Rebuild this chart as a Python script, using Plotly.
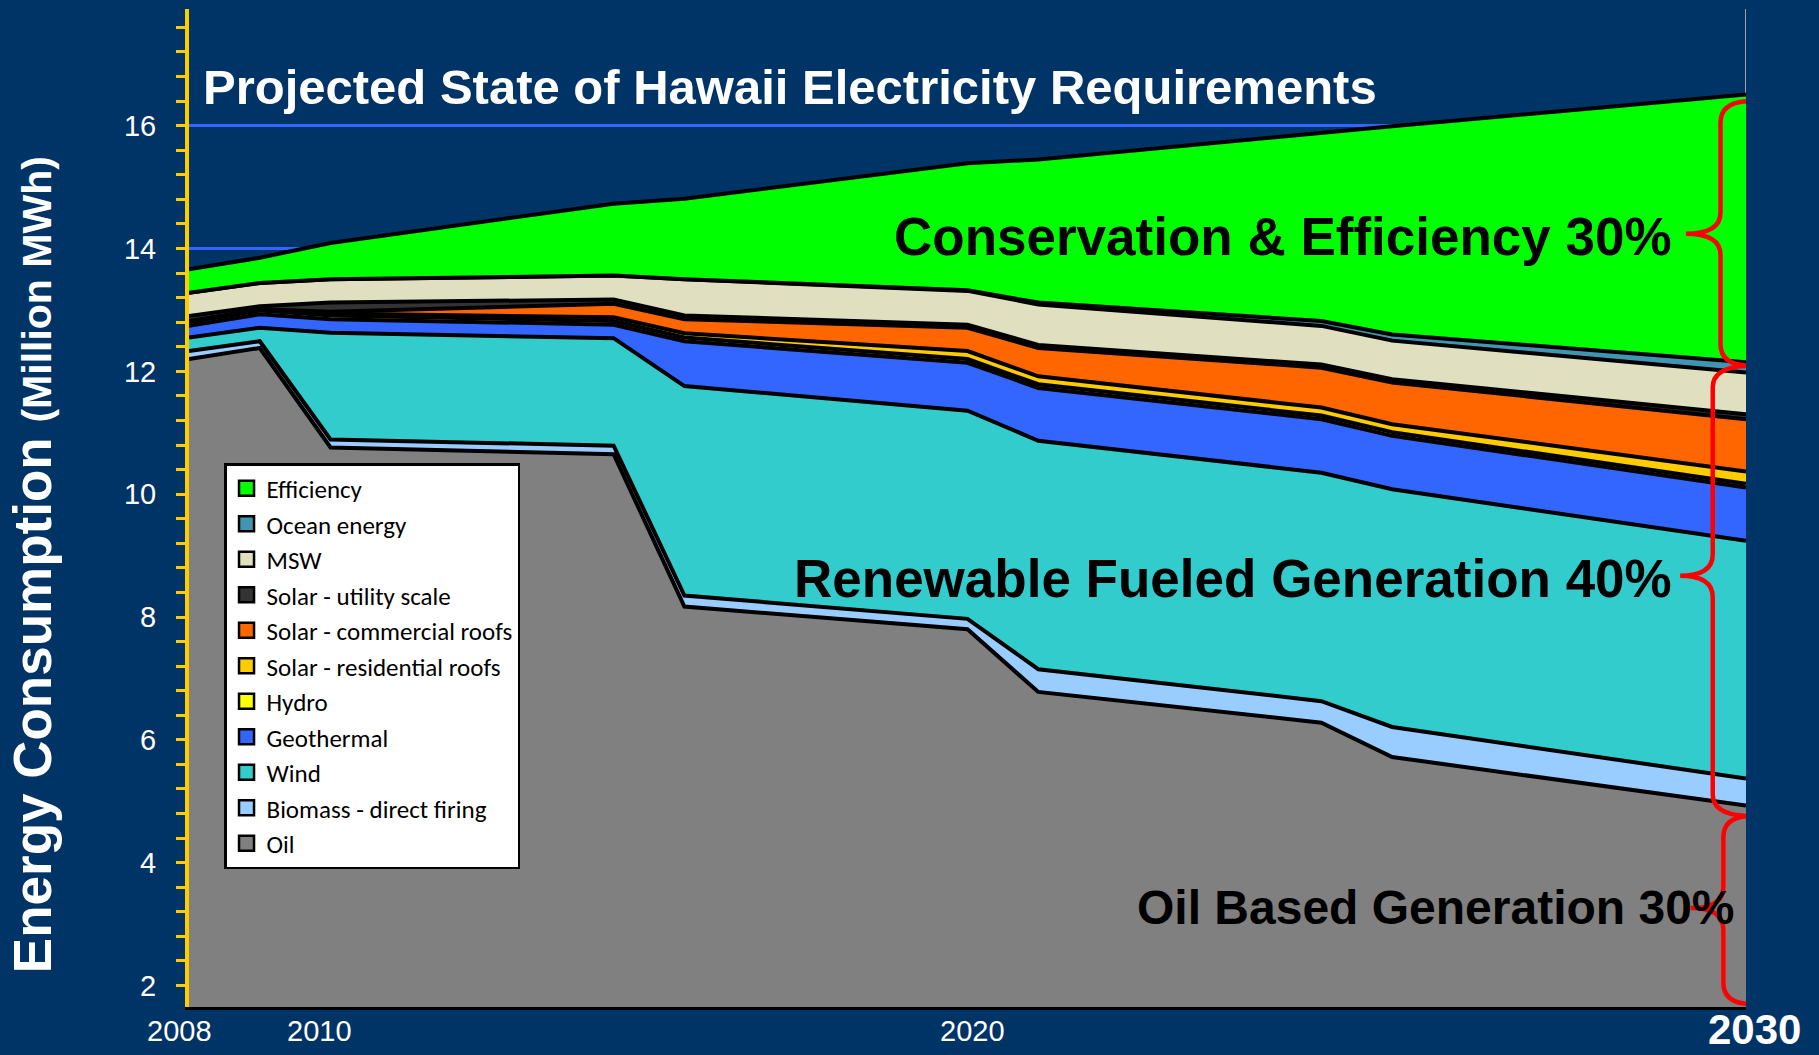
import plotly.graph_objects as go

# ---------------- data (million MWh, stacked layers) ----------------
years = [2008, 2009, 2010, 2014, 2015, 2019, 2020, 2024, 2025, 2030]

oil        = [12.20, 12.38, 10.76, 10.65, 8.17, 7.80, 6.78, 6.28, 5.72, 4.93]
biomass    = [0.13, 0.11, 0.13, 0.14, 0.18, 0.17, 0.37, 0.35, 0.49, 0.44]
wind       = [0.22, 0.22, 1.74, 1.75, 3.41, 3.39, 3.72, 3.72, 3.87, 3.87]
geothermal = [0.19, 0.22, 0.22, 0.22, 0.73, 0.78, 0.86, 0.87, 0.87, 0.87]
hydro      = [0.06, 0.06, 0.06, 0.06, 0.06, 0.06, 0.06, 0.06, 0.06, 0.06]
solar_res  = [0.01, 0.01, 0.03, 0.06, 0.07, 0.13, 0.13, 0.13, 0.13, 0.20]
solar_comm = [0.01, 0.01, 0.03, 0.22, 0.23, 0.38, 0.46, 0.65, 0.68, 0.85]
solar_util = [0.08, 0.05, 0.15, 0.07, 0.06, 0.05, 0.05, 0.05, 0.05, 0.08]
msw        = [0.38, 0.38, 0.38, 0.39, 0.59, 0.55, 0.66, 0.63, 0.63, 0.68]
ocean      = [0.00, 0.00, 0.00, 0.00, 0.00, 0.01, 0.03, 0.08, 0.10, 0.17]
efficiency = [0.38, 0.41, 0.59, 1.17, 1.31, 2.07, 2.33, 3.07, 3.39, 4.36]

series_names = ["Oil", "Biomass - direct firing", "Wind", "Geothermal", "Hydro",
                "Solar - residential roofs", "Solar - commercial roofs",
                "Solar - utility scale", "MSW", "Ocean energy", "Efficiency"]
series_values = [oil, biomass, wind, geothermal, hydro, solar_res, solar_comm,
                 solar_util, msw, ocean, efficiency]
series_colors = ["#808080", "#99CCFF", "#33CCCC", "#3366FF", "#FFFF00",
                 "#FFCC00", "#FF6600", "#333333", "#E0E0C0", "#4096B0", "#00FF00"]

x_tick_labels = ["2008", "2010", "2020"]
x_tick_label_pos = [2007.87, 2009.84, 2019.07]
last_year_label = "2030"
last_year_label_pos = 2030.12

# ---------------- style ----------------
NAVY = "#003366"
AXIS_YELLOW = "#FFCC00"
GRID_BLUE = "#3366FF"
BASE_FONT = "Liberation Sans, Arial, sans-serif"
LEGEND_FONT = "Carlito, Calibri, Lato, sans-serif"
X0, X1 = 2008, 2030


def xpaper(v):
    return (v - X0) / (X1 - X0)


fig = go.Figure()

for name, vals, col in zip(series_names, series_values, series_colors):
    fig.add_trace(go.Scatter(
        x=years, y=vals, name=name, stackgroup="one", mode="lines",
        line=dict(color="black", width=4, shape="linear"),
        fillcolor=col, showlegend=False, hoverinfo="x+y+name"))

# legend swatches (top of the stack first)
for name, col in zip(series_names[::-1], series_colors[::-1]):
    fig.add_trace(go.Scatter(
        x=[None], y=[None], name=name, mode="markers",
        marker=dict(symbol="square", size=15, color=col,
                    line=dict(color="black", width=2.5)),
        showlegend=True))


def brace(y_top, y_bot, y_tip, x_end, x_spine, x_tip, d):
    return (f"M {x_end},{y_top} Q {x_spine},{y_top} {x_spine},{y_top - d} "
            f"L {x_spine},{y_tip + d} Q {x_spine},{y_tip} {x_tip},{y_tip} "
            f"Q {x_spine},{y_tip} {x_spine},{y_tip - d} "
            f"L {x_spine},{y_bot + d} Q {x_spine},{y_bot} {x_end},{y_bot} ")


shapes = [
    dict(type="line", xref="x", yref="paper", x0=2030, x1=2030, y0=0, y1=1,
         line=dict(color="#A0A0A0", width=2), layer="below"),
    dict(type="path", xref="x", yref="y",
         path=brace(16.40, 12.09, 14.24, 2030.08, 2029.64, 2029.15, 0.35),
         line=dict(color="#FF0000", width=4.5)),
    dict(type="path", xref="x", yref="y",
         path=brace(12.09, 4.76, 8.67, 2030.08, 2029.53, 2029.07, 0.35),
         line=dict(color="#FF0000", width=4.5)),
    dict(type="path", xref="x", yref="y",
         path=brace(4.76, 1.70, 3.26, 2030.08, 2029.68, 2029.22, 0.35),
         line=dict(color="#FF0000", width=4.5)),
]

annotations = [
    dict(text="<b>Projected State of Hawaii Electricity Requirements</b>",
         xref="paper", yref="paper", x=0.008, y=0.922, xanchor="left", yanchor="middle",
         showarrow=False, font=dict(family=BASE_FONT, size=49, color="white")),
    dict(text="<b>Conservation &amp; Efficiency 30%</b>", xref="x", yref="y",
         x=2028.98, y=14.2, xanchor="right", yanchor="middle", showarrow=False,
         font=dict(family=BASE_FONT, size=53, color="black")),
    dict(text="<b>Renewable Fueled Generation 40%</b>", xref="x", yref="y",
         x=2028.98, y=8.63, xanchor="right", yanchor="middle", showarrow=False,
         font=dict(family=BASE_FONT, size=53, color="black")),
    dict(text="<b>Oil Based Generation 30%</b>", xref="x", yref="y",
         x=2029.87, y=3.27, xanchor="right", yanchor="middle", showarrow=False,
         font=dict(family=BASE_FONT, size=48, color="black")),
    dict(text="<b>Energy Consumption <span style='font-size:41px'>(Million MWh)</span></b>",
         xref="paper", yref="paper", x=-0.1, y=0.443, xanchor="center", yanchor="middle",
         textangle=-90, showarrow=False,
         font=dict(family=BASE_FONT, size=53, color="white")),
    dict(text=f"<b>{last_year_label}</b>", xref="paper", yref="paper",
         x=xpaper(last_year_label_pos), y=-0.023,
         xanchor="center", yanchor="middle", showarrow=False,
         font=dict(family=BASE_FONT, size=42, color="white")),
]
for lbl, pos in zip(x_tick_labels, x_tick_label_pos):
    annotations.append(dict(text=lbl, xref="paper", yref="paper", x=xpaper(pos), y=-0.024,
                            xanchor="center", yanchor="middle", showarrow=False,
                            font=dict(family=BASE_FONT, size=29, color="white")))

fig.update_layout(
    width=1819, height=1055,
    paper_bgcolor=NAVY, plot_bgcolor=NAVY,
    margin=dict(l=189, r=73, t=9, b=48),
    showlegend=True,
    legend=dict(x=0.0225, y=0.545, xanchor="left", yanchor="top",
                bgcolor="white", bordercolor="black", borderwidth=2.5,
                font=dict(family=LEGEND_FONT, size=25, color="black"),
                traceorder="normal", itemsizing="trace"),
    xaxis=dict(range=[X0, X1], showticklabels=False, showgrid=False,
               zeroline=False, showline=True, linecolor="black", linewidth=3,
               ticks=""),
    yaxis=dict(range=[1.65, 17.9], tick0=0, dtick=2, showgrid=True,
               gridcolor=GRID_BLUE, gridwidth=3, zeroline=False,
               showline=True, linecolor=AXIS_YELLOW, linewidth=4,
               ticks="outside", ticklen=9, tickwidth=3, tickcolor=AXIS_YELLOW,
               tickfont=dict(family=BASE_FONT, size=29, color="white"),
               ticklabelstandoff=14,
               minor=dict(tick0=0, dtick=0.4, ticks="outside", ticklen=9,
                          tickwidth=3, tickcolor=AXIS_YELLOW, showgrid=False)),
    shapes=shapes,
    annotations=annotations,
)

fig.write_html("out.html",
               config={"displayModeBar": False},
               post_script="document.body.style.margin='0px';"
                           "document.body.style.background='#003366';"
                           "document.body.style.overflow='hidden';")
